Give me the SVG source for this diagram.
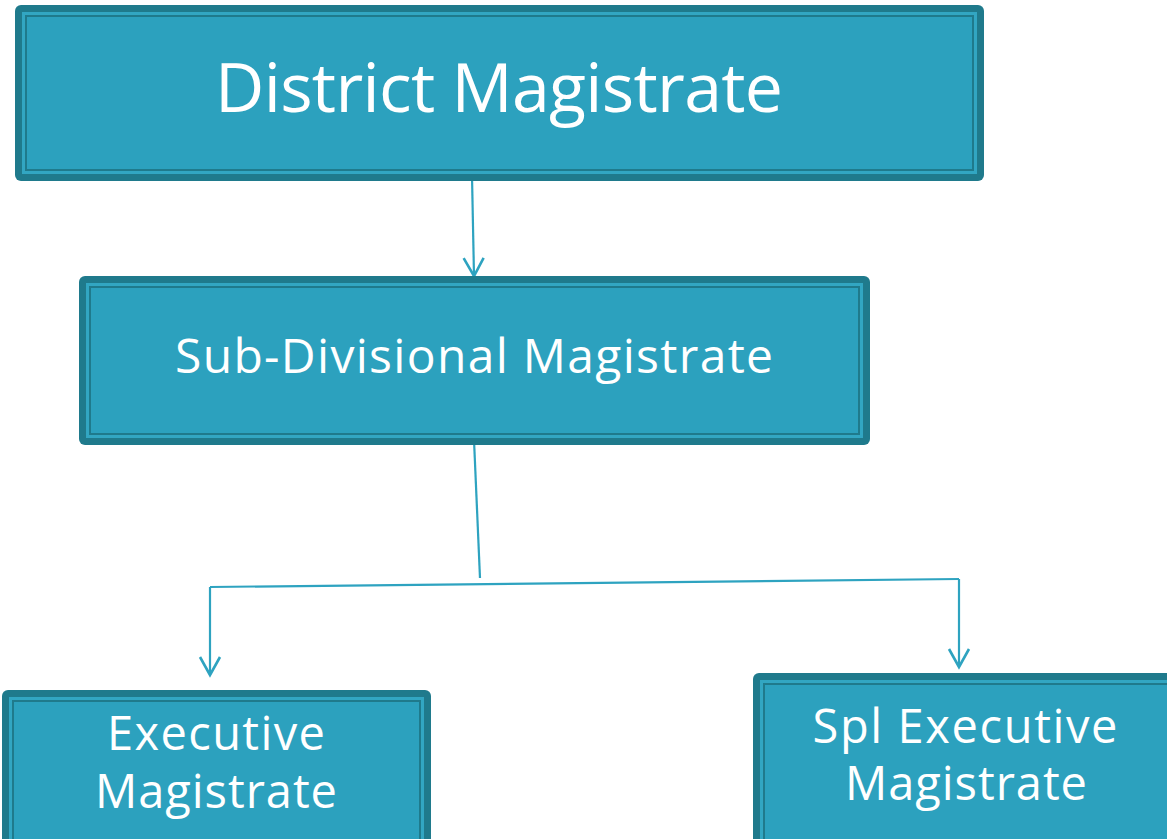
<svg xmlns="http://www.w3.org/2000/svg" width="1167" height="839" viewBox="0 0 1167 839">
<style>
.outer{fill:#1f7a8c}
.band{fill:#32a6c2}
.fillr{fill:#2ca1be;stroke:#1f7a8c;stroke-width:2}
.lbl{font-family:"Open Sans","DejaVu Sans",sans-serif;fill:#ffffff;text-anchor:middle}
.conn{fill:none;stroke:#2ea3c0;stroke-width:2.2}
</style>
<defs>
<marker id="arr" viewBox="0 0 24 24" refX="21" refY="12" markerWidth="24" markerHeight="24" markerUnits="userSpaceOnUse" orient="auto">
<path d="M3,2 L21,12 L3,22" fill="none" stroke="#2ea3c0" stroke-width="2.6"/>
</marker>
</defs>
<rect width="1167" height="839" fill="#ffffff"/>
<g id="connectors">
<line class="conn" x1="472" y1="176" x2="474" y2="276" marker-end="url(#arr)"/>
<line class="conn" x1="474" y1="440" x2="480" y2="578"/>
<line class="conn" x1="210" y1="587" x2="959" y2="579"/>
<line class="conn" x1="210" y1="587" x2="210" y2="675" marker-end="url(#arr)"/>
<line class="conn" x1="959" y1="579" x2="959" y2="667" marker-end="url(#arr)"/>
</g>
<g id="node-dm">
<rect class="outer" x="15" y="5" width="969" height="176" rx="6"/>
<rect class="band" x="22" y="12" width="955" height="162"/>
<rect class="fillr" x="26" y="16" width="947" height="154"/>
<text class="lbl" x="499" y="112" font-size="68" textLength="568">District Magistrate</text>
</g>
<g id="node-sdm">
<rect class="outer" x="79" y="276" width="791" height="169" rx="6"/>
<rect class="band" x="86" y="283" width="777" height="155"/>
<rect class="fillr" x="90" y="287" width="769" height="147"/>
<text class="lbl" x="474" y="373" font-size="48" textLength="598">Sub-Divisional Magistrate</text>
</g>
<g id="node-em">
<rect class="outer" x="2" y="690" width="429" height="160" rx="6"/>
<rect class="band" x="9" y="697" width="415" height="160"/>
<rect class="fillr" x="13" y="701" width="407" height="160"/>
<text class="lbl" x="216" y="750" font-size="47" textLength="218">Executive</text>
<text class="lbl" x="216" y="808" font-size="47" textLength="242">Magistrate</text>
</g>
<g id="node-sem">
<rect class="outer" x="753" y="673" width="430" height="180" rx="6"/>
<rect class="band" x="760" y="680" width="416" height="180"/>
<rect class="fillr" x="764" y="684" width="408" height="180"/>
<text class="lbl" x="965" y="743" font-size="47" textLength="305">Spl Executive</text>
<text class="lbl" x="966" y="800" font-size="47" textLength="242">Magistrate</text>
</g>
</svg>
